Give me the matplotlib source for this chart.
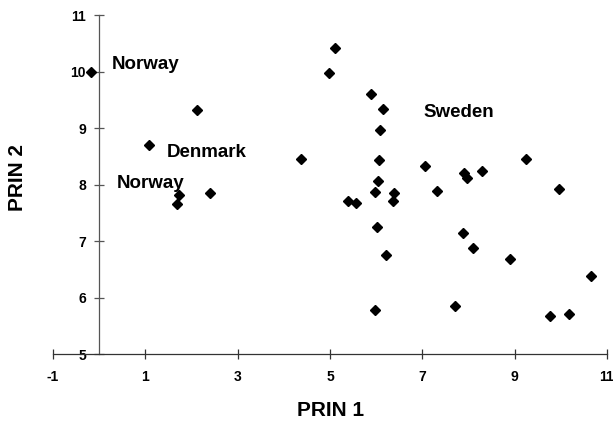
import numpy as np
import matplotlib
matplotlib.use("Agg")
import matplotlib.pyplot as plt

plt.rcParams['font.family'] = ['Liberation Sans', 'DejaVu Sans']
plt.rcParams['font.weight'] = 'bold'

# principal component scores
prin1 = [-0.18, 1.07, 2.11, 1.72, 1.69, 2.40, 4.38, 4.99, 5.10, 5.89,
         6.14, 6.08, 6.06, 6.04, 5.97, 5.39, 5.57, 6.38, 6.36, 6.03,
         6.22, 5.97, 7.07, 7.32, 7.91, 7.97, 8.30, 9.25, 9.96, 7.89,
         8.09, 8.91, 10.65, 7.71, 9.77, 10.19]
prin2 = [10.00, 8.70, 9.32, 7.82, 7.66, 7.85, 8.45, 9.98, 10.41, 9.60,
         9.34, 8.96, 8.43, 8.06, 7.87, 7.71, 7.68, 7.85, 7.70, 7.24,
         6.75, 5.78, 8.33, 7.89, 8.21, 8.11, 8.24, 8.45, 7.92, 7.14,
         6.87, 6.68, 6.39, 5.85, 5.68, 5.71]

labels = ["Norway", "Denmark", "Norway", "Sweden"]
label_x = [0.27, 1.46, 0.39, 7.03]
label_y = [10.04, 8.49, 7.94, 9.20]

xticks = [-1, 1, 3, 5, 7, 9, 11]
yticks = [5, 6, 7, 8, 9, 10, 11]

fig = plt.figure(figsize=(6.13, 4.23), dpi=100)
ax = fig.add_axes([0.0865, 0.163, 0.9035, 0.8015])

ax.plot(prin1, prin2, 'D', color='black', markersize=5.4, clip_on=False)

for t, x, y in zip(labels, label_x, label_y):
    ax.text(x, y, t, fontsize=13.5, fontweight='bold', ha='left', va='baseline')

ax.set_xlim(-1, 11)
ax.set_ylim(5, 11)

ax.spines['top'].set_visible(False)
ax.spines['right'].set_visible(False)
ax.spines['left'].set_position(('data', 0))
ax.spines['bottom'].set_position(('data', 5))
ax.spines['left'].set_color('#555555')
ax.spines['bottom'].set_color('#333333')
ax.spines['left'].set_linewidth(0.9)
ax.spines['bottom'].set_linewidth(0.9)

ax.set_xticks(xticks)
ax.set_yticks(yticks)
ax.set_xticklabels([str(v) for v in xticks], fontsize=10, fontweight='bold')
ax.set_yticklabels([str(v) for v in yticks], fontsize=10, fontweight='bold')
ax.tick_params(axis='x', direction='inout', length=7, width=0.9, color='#333333', pad=8)
ax.tick_params(axis='y', direction='inout', length=7, width=0.9, color='#555555', pad=6)

fig.text(0.539, 0.03, "PRIN 1", fontsize=15, fontweight='bold', ha='center', va='center')
fig.text(0.028, 0.58, "PRIN 2", fontsize=15, fontweight='bold', ha='center', va='center',
         rotation=90)

fig.savefig("out.png", dpi=100)
